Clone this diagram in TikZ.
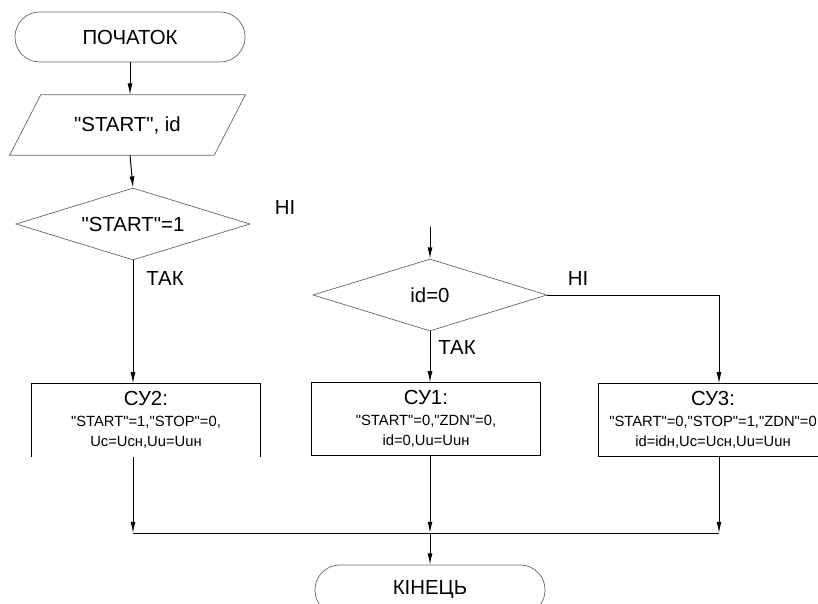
\documentclass[tikz,border=0pt]{standalone}
\usepackage{fontspec}
\setmainfont{Liberation Sans}
\usetikzlibrary{shapes.geometric,arrows.meta}
\newcommand{\titlesize}{\fontsize{14.5}{17}\selectfont}
\newcommand{\notesize}{\fontsize{10.5}{14.5}\selectfont}
\newcommand{\qm}{\textquotedbl}

\begin{document}
\begin{tikzpicture}[x=0.025cm, y=-0.025cm,
        outline/.style={draw=black!60, line width=0.5pt},
        terminal/.style={outline, rounded corners=0.62cm,
            minimum width=5.75cm, minimum height=1.25cm, font=\titlesize},
        datain/.style={minimum width=5.1cm, minimum height=1.5cm, font=\titlesize},
        decision/.style={outline, diamond, aspect=3.25, inner sep=0pt,
            minimum width=5.85cm, minimum height=1.8cm, font=\titlesize},
        block/.style={line width=0.7pt, minimum width=5.7cm, minimum height=1.8cm,
            align=center, font=\notesize},
        arr/.style={-{Latex[length=8pt,width=3.5pt]}, line width=0.7pt},
        lbl/.style={font=\titlesize}]
        \useasboundingbox (0,0) rectangle (818,604);

        \node[terminal] (start) at (130,37) {ПОЧАТОК};
        \node[datain] (input) at (127.5,125) {\qm START\qm, id};
        \draw[outline] ([xshift=0.39cm]input.north west) -- ([xshift=0.39cm]input.north east)
            -- ([xshift=-0.39cm]input.south east) -- ([xshift=-0.39cm]input.south west) -- cycle;
        \node[decision] (cond1) at (133,224) {\qm START\qm=1};
        \node[lbl] (no1) at (285,207) {НІ};
        \node[lbl] (yes1) at (165,278) {ТАК};

        \node[decision] (cond2) at (430,295) {id=0};
        \node[lbl] (no2) at (578,278) {НІ};
        \node[lbl] (yes2) at (457,347) {ТАК};
        \coordinate (in2) at (430,227);

        \node[block] (su2) at (146,420) {{\titlesize СУ2:}\\\qm START\qm=1,\qm STOP\qm=0,\\Uc=Ucн,Uu=Uuн};
        \node[block, draw] (su1) at (426,419) {{\titlesize СУ1:}\\\qm START\qm=0,\qm ZDN\qm=0,\\id=0,Uu=Uuн};
        \node[block, draw] (su3) at (713,420) {{\titlesize СУ3:}\\\qm START\qm=0,\qm STOP\qm=1,\qm ZDN\qm=0\\id=idн,Uc=Ucн,Uu=Uuн};
        \draw[line width=0.7pt] (su2.south west) |- (su2.north east) -- (su2.south east);

        \node[terminal] (end) at (430,590) {КІНЕЦЬ};
        \coordinate (m2) at (133,533);
        \coordinate (m1) at (430,533);
        \coordinate (m3) at (719,533);

        \draw[arr] (start) -- (start |- input.north);
        \draw[arr] (start |- input.south) -- (cond1.north);
        \draw[arr] (cond1.south) -- (cond1.south |- su2.north);
        \draw[arr] (in2) -- (cond2.north);
        \draw[arr] (cond2.south) -- (cond2.south |- su1.north);
        \draw[arr] (cond2.east) -| (m3 |- su3.north);

        \draw[arr] (m2 |- su2.south) -- (m2);
        \draw[arr] (m1 |- su1.south) -- (m1);
        \draw[arr] (m3 |- su3.south) -- (m3);
        \draw[line width=0.7pt] (m2) -- (m3);
        \draw[arr] (m1) -- (end);
    \end{tikzpicture}
\end{document}
